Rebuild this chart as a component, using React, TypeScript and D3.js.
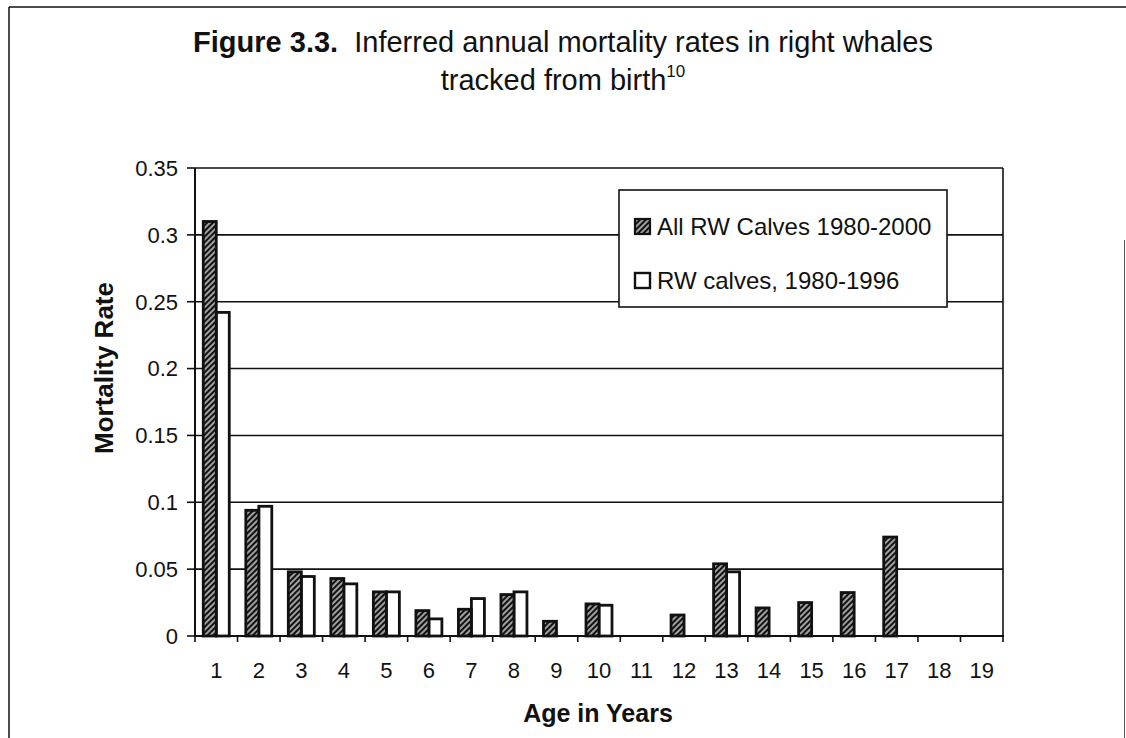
import React from "react";
import * as d3 from "d3";

const ages = ["1","2","3","4","5","6","7","8","9","10","11","12","13","14","15","16","17","18","19"];
const allCalves: (number | null)[] = [0.31,0.094,0.048,0.043,0.033,0.019,0.020,0.031,0.011,0.024,null,0.0157,0.054,0.021,0.025,0.0325,0.074,null,null];
const calves9606: (number | null)[] = [0.242,0.097,0.0445,0.039,0.033,0.0128,0.028,0.033,null,0.023,null,null,0.048,null,null,null,null,null,null];
const yTicks = [0,0.05,0.1,0.15,0.2,0.25,0.3,0.35];
const yTickLabels = ["0","0.05","0.1","0.15","0.2","0.25","0.3","0.35"];
const seriesNames = ["All RW Calves 1980-2000","RW calves, 1980-1996"];

const W = 1126, H = 738;
const plot = { left: 195, right: 1003, top: 168, bottom: 636 };
const FONT = "'Liberation Sans', Arial, Helvetica, sans-serif";

export default function App() {
  const x = d3.scaleBand<string>().domain(ages).range([plot.left, plot.right]).padding(0);
  const y = d3.scaleLinear().domain([0, 0.35]).range([plot.bottom, plot.top]);
  const bw = 13;
  const bands = x.bandwidth();
  const boundaries = ages.map((a) => x(a) as number).concat([plot.right]);

  return (
    <svg width={W} height={H} style={{ position: "absolute", left: 0, top: 0, background: "#fff" }} fontFamily={FONT}>
      <defs>
        <pattern id="hatch" patternUnits="userSpaceOnUse" width={4} height={10} patternTransform="rotate(45)">
          <rect x={0} y={0} width={4} height={10} fill="#111" />
          <line x1={2} y1={0} x2={2} y2={10} stroke="#fff" strokeWidth={1.2} />
        </pattern>
      </defs>
      <rect x={0} y={0} width={W} height={H} fill="#fff" />
      {/* outer frame */}
      <line x1={9} y1={7} x2={W} y2={7} stroke="#111" strokeWidth={1.5} />
      <line x1={9} y1={7} x2={9} y2={H} stroke="#111" strokeWidth={1.5} />
      <line x1={1124.5} y1={240} x2={1124.5} y2={H} stroke="#555" strokeWidth={1} />

      {/* title */}
      <text x={563} y={52} textAnchor="middle" fontSize={29} fill="#111">
        <tspan fontWeight="bold">Figure 3.3.</tspan>
        <tspan>{"\u00a0 Inferred annual mortality rates in right whales"}</tspan>
      </text>
      <text x={563} y={90} textAnchor="middle" fontSize={29} fill="#111">
        <tspan>tracked from birth</tspan>
        <tspan fontSize={17} dy={-13}>10</tspan>
      </text>

      {/* gridlines */}
      {yTicks.slice(1).map((t) => (
        <line key={"g" + t} x1={plot.left} x2={plot.right} y1={y(t)} y2={y(t)} stroke="#111" strokeWidth={1.6} />
      ))}
      <line x1={plot.right} x2={plot.right} y1={plot.top} y2={plot.bottom} stroke="#111" strokeWidth={1.6} />

      {/* bars */}
      {ages.map((a, i) => {
        const cx = (x(a) as number) + bands / 2;
        const v1 = allCalves[i];
        const v2 = calves9606[i];
        return (
          <g key={"b" + a}>
            {v2 != null && (
              <rect x={cx} y={y(v2)} width={bw} height={y(0) - y(v2)} fill="#fff" stroke="#111" strokeWidth={2.8} />
            )}
            {v1 != null && (
              <rect x={cx - bw} y={y(v1)} width={bw} height={y(0) - y(v1)} fill="url(#hatch)" stroke="#111" strokeWidth={2.8} />
            )}
          </g>
        );
      })}

      {/* axes */}
      <line x1={plot.left} x2={plot.left} y1={plot.top} y2={plot.bottom} stroke="#111" strokeWidth={2} />
      <line x1={plot.left - 1} x2={plot.right + 1} y1={plot.bottom} y2={plot.bottom} stroke="#111" strokeWidth={2.2} />
      {yTicks.map((t, i) => (
        <g key={"yt" + t}>
          <line x1={plot.left - 8} x2={plot.left} y1={y(t)} y2={y(t)} stroke="#111" strokeWidth={1.6} />
          <text x={plot.left - 17} y={y(t)} dy="0.36em" textAnchor="end" fontSize={22} fill="#111">{yTickLabels[i]}</text>
        </g>
      ))}
      {boundaries.map((bx, i) => (
        <line key={"xt" + i} x1={bx} x2={bx} y1={plot.bottom} y2={plot.bottom + 6} stroke="#111" strokeWidth={1.6} />
      ))}
      {ages.map((a) => (
        <text key={"xl" + a} x={(x(a) as number) + bands / 2} y={670} dy="0.36em" textAnchor="middle" fontSize={22} fill="#111">{a}</text>
      ))}

      {/* axis titles */}
      <text x={598} y={713} dy="0.36em" textAnchor="middle" fontSize={25} fontWeight="bold" fill="#111">Age in Years</text>
      <text transform={`translate(104,368) rotate(-90)`} dy="0.36em" textAnchor="middle" fontSize={26} fontWeight="bold" fill="#111">Mortality Rate</text>

      {/* legend */}
      <rect x={619} y={190} width={328} height={117} fill="#fff" stroke="#111" strokeWidth={1.6} />
      <rect x={635} y={219} width={15} height={15} fill="url(#hatch)" stroke="#111" strokeWidth={2.2} />
      <text x={657} y={226} dy="0.36em" fontSize={24} fill="#111">{seriesNames[0]}</text>
      <rect x={635} y={273} width={15} height={15} fill="#fff" stroke="#111" strokeWidth={2.4} />
      <text x={657} y={280} dy="0.36em" fontSize={24} fill="#111">{seriesNames[1]}</text>
    </svg>
  );
}
